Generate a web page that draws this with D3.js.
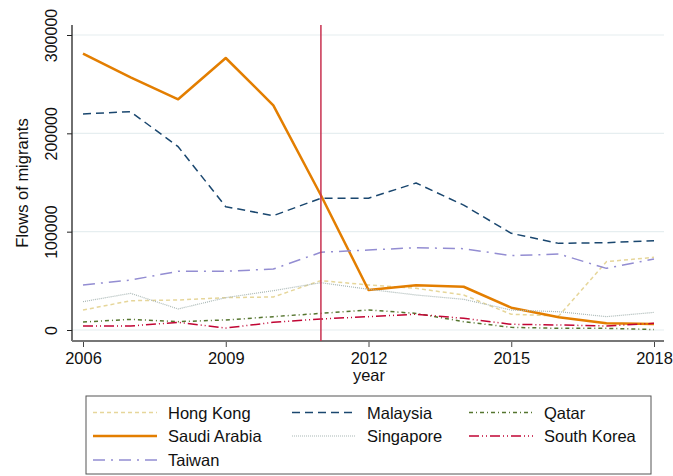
<!DOCTYPE html>
<html><head><meta charset="utf-8">
<script src="https://cdn.jsdelivr.net/npm/d3@7"></script>
<style>body{margin:0;background:#fff}svg{font-family:"Liberation Sans",Arial,sans-serif}</style>
</head><body>
<svg id="c" width="673" height="476"></svg>
<script>
const years = [2006,2007,2008,2009,2010,2011,2012,2013,2014,2015,2016,2017,2018];
const hongKong    = [20300,29800,30500,32900,33600,50200,45800,42400,35600,16000,14200,69500,73900];
const malaysia    = [219700,222000,186400,125400,116300,134000,134000,149500,127000,98300,88100,88800,90800];
const qatar       = [8100,10800,8500,10200,13600,16900,20300,16900,8500,2700,1700,1700,500];
const saudiArabia = [281000,257000,234600,276600,228500,137000,40700,45400,44000,22700,12900,6800,6100];
const singapore   = [28800,37300,21400,32900,40000,48100,41400,35600,31200,20300,18600,13600,17900];
const southKorea  = [4100,4100,7800,2000,7800,11200,13600,16000,11900,5800,5100,4100,6800];
const taiwan      = [45800,50800,59700,59700,62000,79000,81400,83700,82700,75600,77300,62700,72200];
const yTicks = [0,100000,200000,300000];
const xTicks = [2006,2009,2012,2015,2018];
const policyYear = 2011;

const series = [
  {name:"Hong Kong", values:hongKong, color:"#e6d69a", w:1.5, dash:"4,3"},
  {name:"Malaysia", values:malaysia, color:"#1a476f", w:1.5, dash:"8,5"},
  {name:"Qatar", values:qatar, color:"#55752f", w:1.5, dash:"4,3,1,3"},
  {name:"Saudi Arabia", values:saudiArabia, color:"#e37e00", w:2.5, dash:null},
  {name:"Singapore", values:singapore, color:"#a9b7b5", w:1.2, dash:"1,1"},
  {name:"South Korea", values:southKorea, color:"#c10534", w:1.5, dash:"10,3,1,3,1,3"},
  {name:"Taiwan", values:taiwan, color:"#938dd2", w:1.5, dash:"12,6,2,6"}
];

const svg = d3.select("#c");
const x = d3.scaleLinear().domain([2006,2018]).range([83,654]);
const y = d3.scaleLinear().domain([0,300000]).range([330,35]);
const L=72, R=664, T=25, B=341;

// grid
svg.append("g").selectAll("line").data(yTicks).join("line")
  .attr("x1",L).attr("x2",R).attr("y1",d=>y(d)).attr("y2",d=>y(d))
  .attr("stroke","#e6eef0").attr("stroke-width",1.2);

// y axis
const ya = svg.append("g").attr("transform",`translate(${L},0)`)
  .call(d3.axisLeft(y).tickValues(yTicks).tickSize(5).tickFormat(d3.format("d")));
ya.select(".domain").remove();
ya.selectAll(".tick line").attr("stroke","#222");
ya.selectAll(".tick text").attr("font-size","16px").attr("fill","#111")
  .attr("text-anchor","middle").attr("x",0).attr("y",0).attr("dy",0)
  .attr("transform",`translate(${57-L},0) rotate(-90)`);
svg.append("line").attr("x1",L).attr("x2",L).attr("y1",T).attr("y2",B).attr("stroke","#222").attr("stroke-width",1.3);

// x axis
const xa = svg.append("g").attr("transform",`translate(0,${B})`)
  .call(d3.axisBottom(x).tickValues(xTicks).tickSize(6).tickFormat(d3.format("d")));
xa.select(".domain").remove();
xa.selectAll(".tick line").attr("stroke","#444");
xa.selectAll(".tick text").attr("font-size","16.5px").attr("fill","#111").attr("y",7).attr("dy","0.95em");
svg.append("line").attr("x1",L).attr("x2",R).attr("y1",B).attr("y2",B).attr("stroke","#777").attr("stroke-width",2);

// axis titles
svg.append("text").attr("x",369).attr("y",381).attr("text-anchor","middle")
  .attr("font-size","16.5px").attr("fill","#111").text("year");
svg.append("text").attr("transform",`translate(28,${(T+B)/2}) rotate(-90)`).attr("text-anchor","middle")
  .attr("font-size","16.5px").attr("fill","#111").text("Flows of migrants");

// lines
const line = d3.line().x((d,i)=>x(years[i])).y(d=>y(d));
series.forEach(s=>{
  svg.append("path").datum(s.values).attr("d",line).attr("fill","none")
    .attr("stroke",s.color).attr("stroke-width",s.w)
    .attr("stroke-dasharray",s.dash).attr("stroke-linejoin","round");
});

// vertical line
svg.append("line").attr("x1",x(policyYear)).attr("x2",x(policyYear)).attr("y1",T).attr("y2",B)
  .attr("stroke","#c8314f").attr("stroke-width",1.5);

// legend
svg.append("rect").attr("x",86).attr("y",396).attr("width",565).attr("height",78)
  .attr("fill","#fff").attr("stroke","#555").attr("stroke-width",1);
const cols=[93,292,469], rows=[412.5,436,460];
series.forEach((s,i)=>{
  const cx=cols[i%3], cy=rows[Math.floor(i/3)];
  svg.append("line").attr("x1",cx).attr("x2",cx+64).attr("y1",cy).attr("y2",cy)
    .attr("stroke",s.color).attr("stroke-width",s.w).attr("stroke-dasharray",s.dash);
  svg.append("text").attr("x",cx+75).attr("y",cy+6).attr("font-size","16.5px").attr("fill","#111").text(s.name);
});
</script>
</body></html>
